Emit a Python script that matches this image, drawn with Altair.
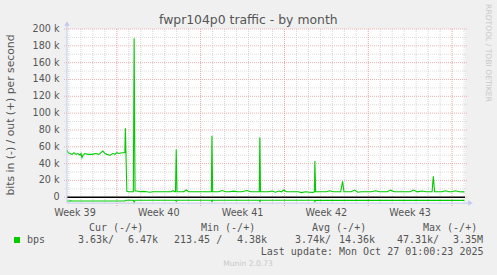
import altair as alt
import pandas as pd

# ---------------- data ----------------
# time in hours from the left edge of the graph, traffic in kbit/s
out_hours = [0, 2, 6, 10, 14, 18, 22, 26, 28, 30, 32, 36, 42, 50, 58, 64, 68, 72, 76, 80, 86, 92, 96, 100, 104, 110, 116,
             117, 120, 124, 128, 133, 134.6, 136.4, 140, 146, 152, 160, 166, 172, 180, 190, 200, 208, 212.7, 216,
             217.5, 219, 220.5, 226, 234, 239, 244, 252, 262, 272, 282, 289.5, 290.6, 292, 298, 304, 311, 318, 326,
             334, 342, 350, 361, 368, 376, 385.5, 386.6, 388, 396, 404, 411, 418, 425, 430, 434.6, 440, 448, 456, 464,
             470, 478, 486, 493, 496, 497, 498.5, 504, 512, 520, 526.7, 534, 542, 548.7, 552.6, 555.3, 562, 570,
             576.7, 583, 590, 600, 610, 618.7, 626, 634, 642, 648.7, 656, 664, 672, 680, 688, 695, 702, 712, 720,
             728, 732, 734.5, 737, 744, 752, 758.7, 766, 772, 778.7, 786, 797]
out_kbps = [56, 53, 52, 51, 53, 51, 52, 50, 52, 47, 50, 52, 51, 51, 52, 51, 53, 55, 52, 51, 50, 52, 51, 53, 52, 53, 53,
            82, 7, 6.5, 6.5, 6.5, 189, 7.5, 7.5, 6.5, 7, 6.5, 6, 6.5, 6.5, 6.5, 6.5, 6.5, 7.8, 6.5,
            6.5, 57, 6.5, 6.5, 6.5, 8.7, 6.5, 6.5, 6.5, 6.5, 6.5, 6.5, 73, 6.5, 6.5, 6.5, 8, 6.5, 6.5,
            7.3, 6.5, 6.5, 8, 6.5, 6.5, 6.5, 71, 6.5, 6.5, 6.5, 7.5, 6, 7.5, 6.5, 8.7, 6.5, 6.5, 6.5, 6.5,
            5.5, 6.5, 6, 5.8, 6.5, 43, 6.5, 6.5, 6.5, 6.5, 7.8, 6.5, 6.5, 6.5, 19, 6.5, 6.5, 6.5,
            8.5, 6, 6.5, 6.5, 6.5, 7.8, 6.5, 6.5, 6.5, 8.5, 6.5, 6.5, 6.5, 6.5, 6.5, 8.5, 6.5, 7.5, 6.5,
            6.5, 6.5, 25, 6.5, 6.5, 6.5, 7.8, 6.5, 6.5, 7.8, 6.5, 6.47]
in_hours = [0, 6, 7.4, 9, 116, 118, 133, 134.6, 136.4, 217.5, 219, 220.5, 289.5, 290.6, 292, 385.5, 386.6, 388,
            496, 497, 498.5, 797]
in_kbps = [-4.4, -4.4, -4.0, -4.4, -4.4, -3.6, -3.6, -6, -3.6, -3.6, -5, -3.6, -3.6, -5, -3.6, -3.6, -5, -3.6,
           -3.6, -5.2, -3.6, -3.63]

week_label_hours = [16, 184, 352, 520, 688]
week_labels = ["Week 39", "Week 40", "Week 41", "Week 42", "Week 43"]
week_start_hours = [100, 268, 436, 604, 772]
day_hours = [4, 28, 52, 76, 124, 148, 172, 196, 220, 244, 292, 316, 340, 364, 388, 412, 460, 484, 508, 532,
             556, 580, 628, 652, 676, 700, 724, 748, 796]
y_major = [0, 20000, 40000, 60000, 80000, 100000, 120000, 140000, 160000, 180000, 200000]
y_labels = ["0", "20 k", "40 k", "60 k", "80 k", "100 k", "120 k", "140 k", "160 k", "180 k", "200 k"]
y_minor = [10000, 30000, 50000, 70000, 90000, 110000, 130000, 150000, 170000, 190000]

title_text = "fwpr104p0 traffic - by month"
y_title_text = "bits in (-) / out (+) per second"
legend_name = "bps"
legend_headers = ["Cur (-/+)", "Min (-/+)", "Avg (-/+)", "Max (-/+)"]
legend_values = ["3.63k/", "6.47k", "213.45 /", "4.38k", "3.74k/", "14.36k", "47.31k/", "3.35M"]
last_update = "Last update: Mon Oct 27 01:00:23 2025"
munin_text = "Munin 2.0.73"
rrd_text = "RRDTOOL / TOBI OETIKER"

# ---------------- layout ----------------
PX0, PY0 = 67, 29
W, H = 398, 174
GREEN = "#00CC00"
TXT = "#555555"
AXISC = "#c4c8f0"
SANS = "DejaVu Sans"
MONO = "DejaVu Sans Mono"

xscale = alt.Scale(domain=[0, 798], nice=False, zero=False)
yscale = alt.Scale(domain=[-6800, 200000], nice=False, zero=False)

out_df = pd.DataFrame({"h": out_hours, "v": [k * 1000 for k in out_kbps]})
in_df = pd.DataFrame({"h": in_hours, "v": [k * 1000 for k in in_kbps]})
ylab_df = pd.DataFrame({"v": y_major, "t": y_labels})
xlab_df = pd.DataFrame({"h": week_label_hours, "t": week_labels})
one = pd.DataFrame({"a": [0]})


def txt(s, ax, ay, size, font=SANS, color=TXT, align="left", angle=0):
    return alt.Chart(one).mark_text(text=s, font=font, fontSize=size, color=color, align=align,
                                    baseline="middle", angle=angle).encode(
        x=alt.value(ax - PX0), y=alt.value(ay - PY0))


grid_minor_h = alt.Chart(pd.DataFrame({"v": y_minor})).mark_rule(
    color="#dcdcdc", strokeWidth=1, strokeDash=[1, 1]).encode(
    y=alt.Y("v:Q", scale=yscale, axis=None), x=alt.value(-3), x2=alt.value(W + 3))
grid_minor_v = alt.Chart(pd.DataFrame({"h": day_hours})).mark_rule(
    color="#d4d4d4", strokeWidth=1, strokeDash=[1, 1]).encode(
    x=alt.X("h:Q", scale=xscale, axis=None), y=alt.value(0), y2=alt.value(H + 2))
grid_major_h = alt.Chart(pd.DataFrame({"v": y_major})).mark_rule(
    color="#eeb0b0", strokeWidth=1, strokeDash=[1, 1]).encode(
    y=alt.Y("v:Q", scale=yscale, axis=None), x=alt.value(-3), x2=alt.value(W + 3))
grid_major_v = alt.Chart(pd.DataFrame({"h": week_start_hours})).mark_rule(
    color="#e8a0a0", strokeWidth=1, strokeDash=[1, 1]).encode(
    x=alt.X("h:Q", scale=xscale, axis=None), y=alt.value(0), y2=alt.value(H + 3))

zero_line = alt.Chart(pd.DataFrame({"v": [0]})).mark_rule(color="#000000", strokeWidth=1.4).encode(
    y=alt.Y("v:Q", scale=yscale, axis=None), x=alt.value(0), x2=alt.value(W))

out_line = alt.Chart(out_df).mark_line(color=GREEN, strokeWidth=1.1).encode(
    x=alt.X("h:Q", scale=xscale, axis=None),
    y=alt.Y("v:Q", scale=yscale, axis=None))
in_line = alt.Chart(in_df).mark_line(color=GREEN, strokeWidth=1.1).encode(
    x=alt.X("h:Q", scale=xscale, axis=None),
    y=alt.Y("v:Q", scale=yscale, axis=None))

y_tick_labels = alt.Chart(ylab_df).mark_text(font=SANS, fontSize=9.6, color=TXT, align="right",
                                             baseline="middle").encode(
    y=alt.Y("v:Q", scale=yscale, axis=None), x=alt.value(-7.5), text="t:N")
x_tick_labels = alt.Chart(xlab_df).mark_text(font=SANS, fontSize=9.6, color=TXT, align="center",
                                             baseline="middle").encode(
    x=alt.X("h:Q", scale=xscale, axis=None), y=alt.value(H + 9.7), text="t:N")

left_axis = alt.Chart(one).mark_rule(color=AXISC, strokeWidth=1).encode(
    x=alt.value(0), y=alt.value(-4), y2=alt.value(H))
bottom_axis = alt.Chart(one).mark_rule(color=AXISC, strokeWidth=1).encode(
    x=alt.value(0), x2=alt.value(W + 4), y=alt.value(H))
up_arrow = alt.Chart(one).mark_point(shape="triangle-up", filled=True, color=AXISC, size=28, opacity=1).encode(
    x=alt.value(0), y=alt.value(-5.5))
right_arrow = alt.Chart(one).mark_point(shape="triangle-right", filled=True, color=AXISC, size=28, opacity=1).encode(
    x=alt.value(W + 5.5), y=alt.value(H))

legend_square = alt.Chart(one).mark_rect(color=GREEN).encode(
    x=alt.value(14 - PX0), x2=alt.value(20 - PX0), y=alt.value(237 - PY0), y2=alt.value(243 - PY0))

texts = [
    txt(title_text, 248.3, 19.5, 12.4, align="center"),
    txt(y_title_text, 11, 115, 10.8, align="center", angle=270),
    txt(rrd_text, 488, 53, 7.6, color="#c8c8c8", align="center", angle=90),
    txt(munin_text, 248, 264, 7.6, color="#c8c8c8", align="center"),
    txt(last_update, 483.5, 251.7, 10, font=MONO, align="right"),
    txt(legend_name, 27, 240, 10, font=MONO),
]
header_x = [89, 201, 312, 423]
for s, hx in zip(legend_headers, header_x):
    texts.append(txt(s, hx, 227.7, 10, font=MONO))
value_x = [78, 128, 174, 237, 295, 339, 397, 453]
for s, vx in zip(legend_values, value_x):
    texts.append(txt(s, vx, 240, 10, font=MONO))

chart = alt.layer(
    grid_minor_h, grid_minor_v, grid_major_h, grid_major_v, zero_line, in_line, out_line,
    y_tick_labels, x_tick_labels,
    left_axis, bottom_axis, up_arrow, right_arrow, legend_square, *texts
).properties(
    width=W, height=H,
    autosize=alt.AutoSizeParams(type="none"),
    padding={"left": PX0, "top": PY0, "right": 497 - PX0 - W, "bottom": 275 - PY0 - H},
    background="#F0F0F0",
).configure_view(fill="#FFFFFF", strokeWidth=0)

chart.save("out.html", embed_options={"renderer": "svg", "actions": False})
